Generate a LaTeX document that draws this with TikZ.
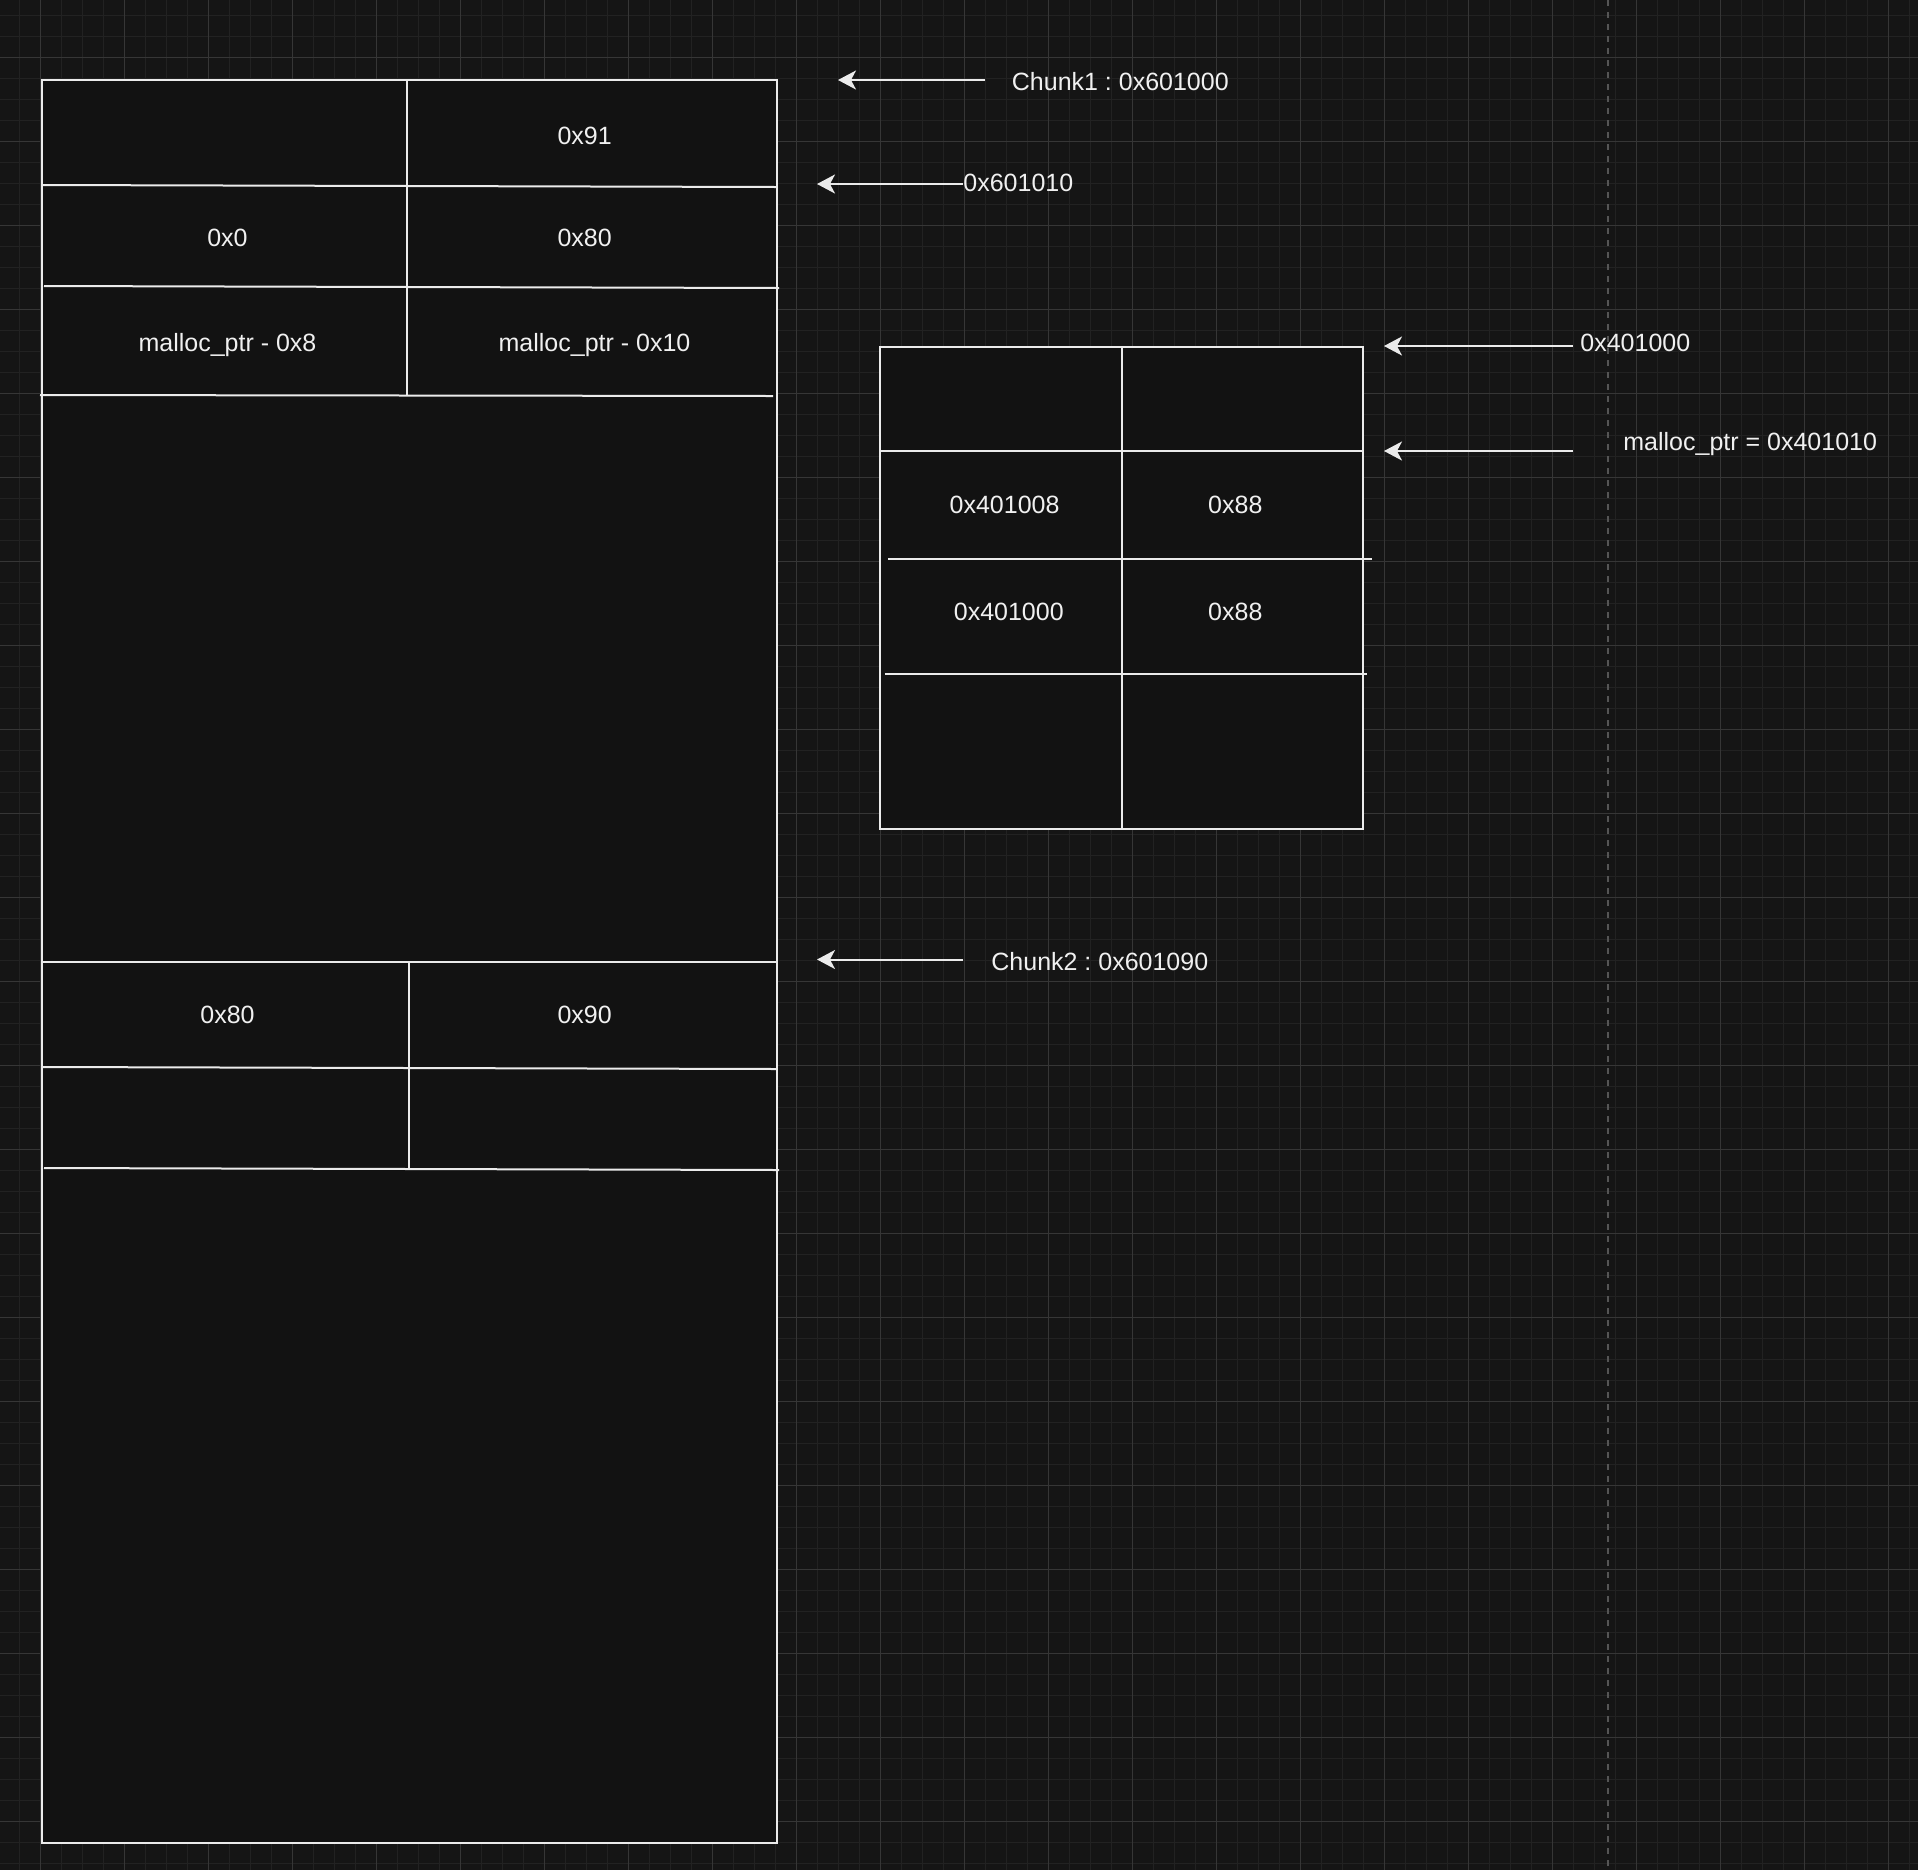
\documentclass[tikz,border=0pt]{standalone}
\usepackage{fontspec}
\setmainfont{Liberation Sans}
\usetikzlibrary{arrows.meta}
\frenchspacing

\definecolor{fondo}{HTML}{151515}
\definecolor{relleno}{HTML}{121212}
\definecolor{rejilla}{HTML}{222222}
\definecolor{rejillamayor}{HTML}{363636}
\definecolor{linea}{HTML}{EBEBEB}
\definecolor{texto}{HTML}{F0F0F0}
\definecolor{guia}{HTML}{555555}

\tikzset{
  celda/.style={inner sep=0pt,anchor=base,text=texto,font=\fontsize{12.5}{15}\selectfont},
  etiq/.style={celda,anchor=base west},
  borde/.style={draw=linea,line width=1pt},
  flecha/.style={draw=linea,line width=1pt,-{Stealth[length=9pt,width=9.5pt,inset=2.5pt]}}
}

\begin{document}
\begin{tikzpicture}[x=0.5pt,y=-0.5pt]
  \useasboundingbox (0,0) rectangle (1918,1870);
  % fondo con rejilla
  \fill[fondo] (0,0) rectangle (1918,1870);
  \foreach \gx in {19,40,...,1918} \draw[rejilla,line width=0.5pt] (\gx,0) -- (\gx,1870);
  \foreach \gy in {15,36,...,1870} \draw[rejilla,line width=0.5pt] (0,\gy) -- (1918,\gy);
  \foreach \gx in {40,124,...,1918} \draw[rejillamayor,line width=0.5pt] (\gx,0) -- (\gx,1870);
  \foreach \gy in {57,141,...,1870} \draw[rejillamayor,line width=0.5pt] (0,\gy) -- (1918,\gy);
  \draw[guia,line width=0.7pt,dash pattern=on 3pt off 3pt] (1608,0) -- (1608,1870);

  % heap: chunk1 y chunk2
  \draw[borde,fill=relleno] (42,80) rectangle (777,1843);
  \draw[borde] (42,185) -- (777,187);
  \draw[borde] (44,286) -- (779,288);
  \draw[borde] (40,395) -- (773,396);
  \draw[borde] (407,80) -- (407,395);
  \draw[borde] (42,962) -- (777,962);
  \draw[borde] (42,1067) -- (777,1069);
  \draw[borde] (44,1168) -- (779,1170);
  \draw[borde] (408.5,962) -- (408.5,1170);

  \node[celda] (size1) at (584.7,144.8) {0x91};
  \node[celda] (prev1) at (227.5,246.3) {0x0};
  \node[celda] (sz1b) at (584.7,246.3) {0x80};
  \node[celda] (fd1) at (227.5,351.5) {malloc\_ptr - 0x8};
  \node[celda] (bk1) at (594.5,351.5) {malloc\_ptr - 0x10};
  \node[celda] (prev2) at (227.5,1023) {0x80};
  \node[celda] (size2) at (584.7,1023) {0x90};

  % chunk falso en 0x401000
  \draw[borde,fill=relleno] (879.5,346.5) rectangle (1362.6,829);
  \draw[borde] (1121.7,346.5) -- (1121.7,829);
  \draw[borde] (879.5,451.3) -- (1362.6,451.3);
  \draw[borde] (888,558.7) -- (1371.7,558.7);
  \draw[borde] (884.8,673.7) -- (1367,673.7);

  \node[celda] (fkfd) at (1004.6,513) {0x401008};
  \node[celda] (fksz) at (1235.3,513) {0x88};
  \node[celda] (fkbk) at (1008.8,620) {0x401000};
  \node[celda] (fksz2) at (1235.3,620) {0x88};

  % flechas con direcciones
  \coordinate (c1cola) at (985,80);
  \coordinate (c1punta) at (838,80);
  \node[etiq] (c1lbl) at (1011.5,90.7) {Chunk1 : 0x601000};
  \draw[flecha] (c1cola) -- (c1punta);

  \coordinate (m1punta) at (817,184);
  \node[etiq] (m1lbl) at (963,191.7) {0x601010};
  \draw[flecha] (m1lbl.west |- m1punta) -- (m1punta);

  \coordinate (fkcola) at (1573,346);
  \coordinate (fkpunta) at (1384,346);
  \node[etiq] (fklbl) at (1580,351.7) {0x401000};
  \draw[flecha] (fkcola) -- (fkpunta);

  \coordinate (ptrcola) at (1573,451);
  \coordinate (ptrpunta) at (1384,451);
  \node[etiq] (ptrlbl) at (1623,450.7) {malloc\_ptr = 0x401010};
  \draw[flecha] (ptrcola) -- (ptrpunta);

  \coordinate (c2cola) at (963,959.5);
  \coordinate (c2punta) at (817,959.5);
  \node[etiq] (c2lbl) at (991,970.7) {Chunk2 : 0x601090};
  \draw[flecha] (c2cola) -- (c2punta);
\end{tikzpicture}
\end{document}
